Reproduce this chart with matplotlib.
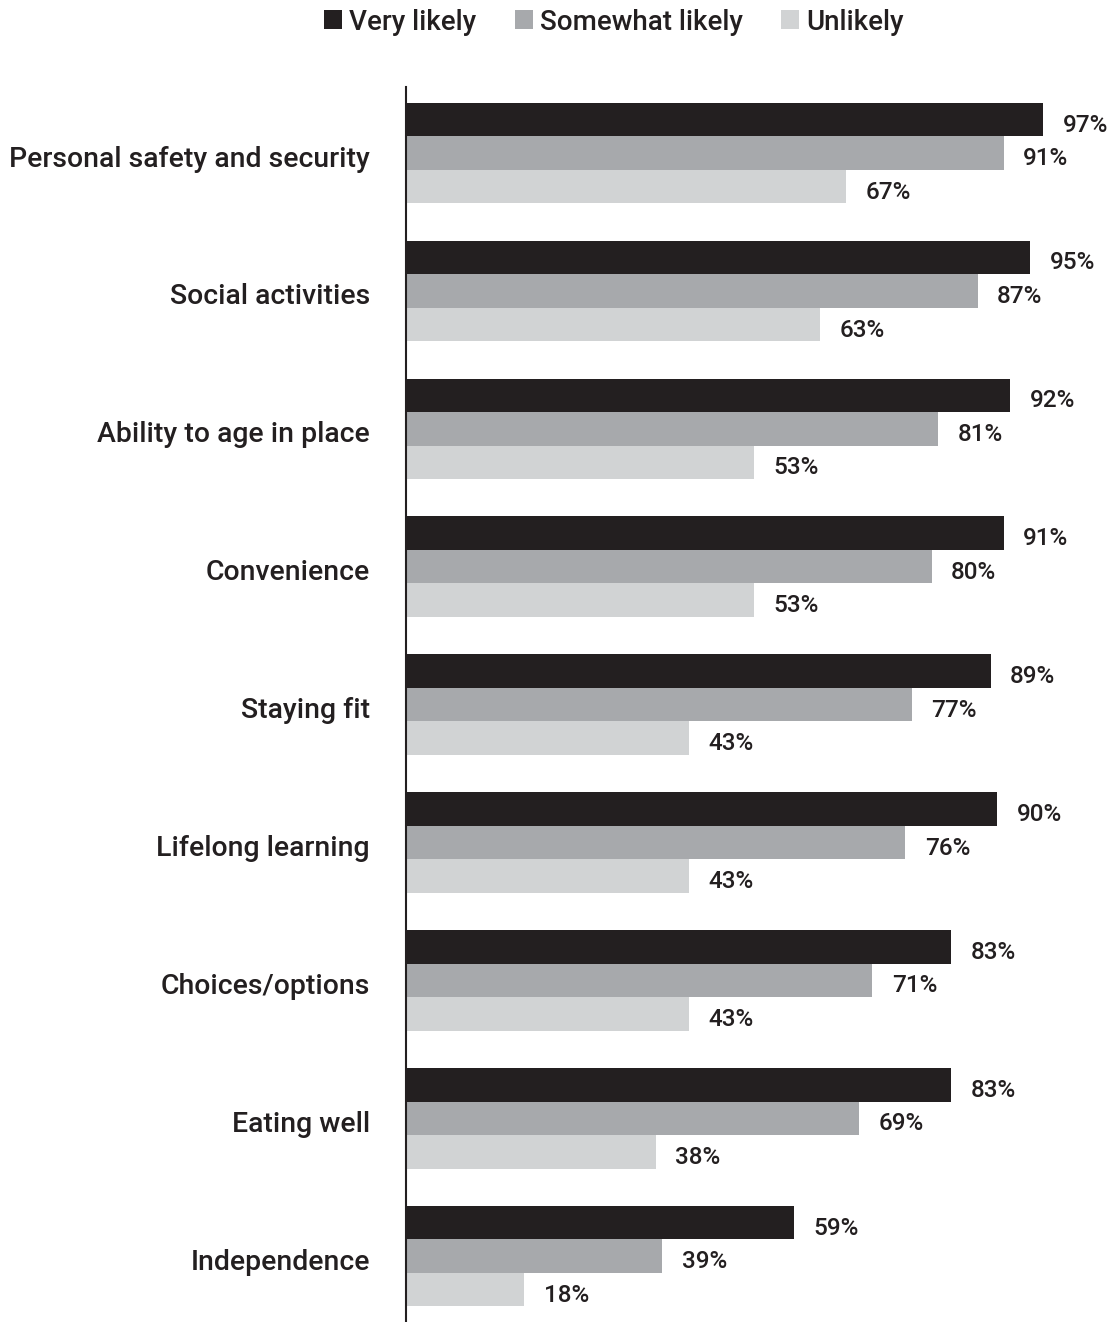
import numpy as np
import matplotlib.pyplot as plt
from matplotlib.patches import Patch
from matplotlib.transforms import ScaledTranslation

plt.rcParams['font.family'] = ['Roboto', 'Liberation Sans', 'DejaVu Sans']

categories = ['Personal safety and security', 'Social activities', 'Ability to age in place',
              'Convenience', 'Staying fit', 'Lifelong learning', 'Choices/options',
              'Eating well', 'Independence']
very_likely = [97, 95, 92, 91, 89, 90, 83, 83, 59]
somewhat_likely = [91, 87, 81, 80, 77, 76, 71, 69, 39]
unlikely = [67, 63, 53, 53, 43, 43, 43, 38, 18]
series_names = ['Very likely', 'Somewhat likely', 'Unlikely']
colors = ['#231f20', '#a7a9ac', '#d1d3d4']

W, H = 1118, 1322
fig = plt.figure(figsize=(W / 100, H / 100), dpi=100)
ax = fig.add_axes([406 / W, 0, (1063 - 406) / W, 1 - 87 / H])

# three bars per category, stacked top to bottom
y = np.arange(len(categories))
h = 0.243
for k, (vals, col) in enumerate(zip([very_likely, somewhat_likely, unlikely], colors)):
    pos = y + (k - 1) * h
    ax.barh(pos, vals, height=h, color=col, edgecolor='none')
    for p, v in zip(pos, vals):
        ax.annotate(f'{v}%', (v, p), xytext=(14, -4), textcoords='offset points',
                    va='center', ha='left', fontsize=17.5, fontweight='medium', color='#231f20')

ax.set_xlim(0, 100)
ax.set_ylim(8.477, -0.479)
ax.set_yticks(y)
ax.set_yticklabels(categories, fontsize=20.4, fontweight='medium', color='#231f20')
ax.tick_params(axis='y', length=0, pad=26)
shift = ScaledTranslation(0, -3 / 100, fig.dpi_scale_trans)
for lab in ax.get_yticklabels():
    lab.set_transform(lab.get_transform() + shift)
ax.set_xticks([])
for s in ['top', 'right', 'bottom']:
    ax.spines[s].set_visible(False)
ax.spines['left'].set_linewidth(1.5)
ax.spines['left'].set_color('#231f20')

handles = [Patch(facecolor=c, edgecolor='none', label=n) for c, n in zip(colors, series_names)]
fig.legend(handles=handles, loc='center', bbox_to_anchor=(0.549, 1 - 22 / H), ncol=3,
           frameon=False, handlelength=0.65, handleheight=0.65, handletextpad=0.25,
           columnspacing=1.4, prop={'size': 20, 'weight': 'medium'}, labelcolor='#231f20')

fig.savefig('out.png', dpi=100)
